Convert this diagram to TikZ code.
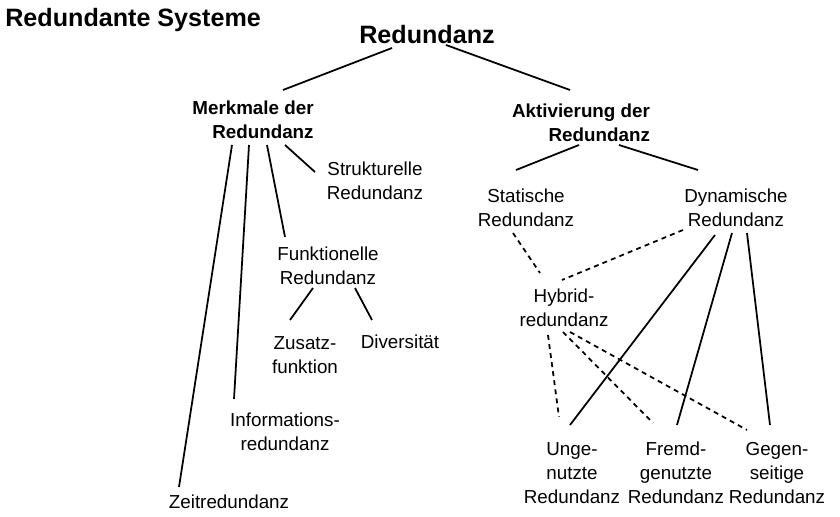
\documentclass[tikz,border=0pt]{standalone}
\usepackage{fontspec}
\setmainfont{Liberation Sans}
\usepackage{tikz}
\usetikzlibrary{calc}

\begin{document}
\begin{tikzpicture}[
    x=0.02cm, y=-0.02cm,
    titlenode/.style={font=\fontsize{14.3}{17}\selectfont\bfseries, inner sep=0pt},
    headnode/.style={font=\fontsize{10.7}{13.6}\selectfont\bfseries, align=right, inner sep=0pt},
    leafnode/.style={font=\fontsize{10.7}{13.8}\selectfont, align=center, inner sep=0pt},
    branch/.style={draw=black, line width=1pt},
    hybridlink/.style={branch, dash pattern=on 2.8pt off 2.4pt}
]
    \useasboundingbox (0,0) rectangle (840,517);

    \node[titlenode, anchor=west] (title) at (5,20) {Redundante Systeme};
    \node[titlenode] (root) at (427,35) {Redundanz};

    % linke Seite
    \node[headnode] (merk) at (253,120) {Merkmale der\\Redundanz};
    \node[leafnode] (strukt) at (375,181) {Strukturelle\\Redundanz};
    \node[leafnode] (funkt) at (328,266) {Funktionelle\\Redundanz};
    \node[leafnode] (zusatz) at (305,355) {Zusatz-\\funktion};
    \node[leafnode] (divers) at (400,342) {Diversität};
    \node[leafnode] (info) at (285,432) {Informations-\\redundanz};
    \node[leafnode] (zeit) at (229,502) {Zeitredundanz};

    % rechte Seite
    \node[headnode] (aktiv) at (581,123) {Aktivierung der\\Redundanz};
    \node[leafnode] (stat) at (526,208) {Statische\\Redundanz};
    \node[leafnode] (dyn) at (736,208) {Dynamische\\Redundanz};
    \node[leafnode] (hybrid) at (564,308) {Hybrid-\\redundanz};
    \node[leafnode] (unge) at (572,473) {Unge-\\nutzte\\Redundanz};
    \node[leafnode] (fremd) at (676,473) {Fremd-\\genutzte\\Redundanz};
    \node[leafnode] (gegen) at (777,473) {Gegen-\\seitige\\Redundanz};

    \draw[branch] ($(root)+(-35,13)$) -- ($(merk)+(30,-30)$);
    \draw[branch] ($(root)+(19,10)$) -- ($(aktiv)+(-11,-33)$);

    \draw[branch] ($(merk)+(-21,25)$) -- ($(zeit)+(-50,-15)$);
    \draw[branch] ($(merk)+(-4,25)$) -- ($(info)+(-51,-33)$);
    \draw[branch] ($(merk)+(14,25)$) -- ($(funkt)+(-43,-29)$);
    \draw[branch] ($(merk)+(32,25)$) -- ($(strukt)+(-60,-9)$);
    \draw[branch] ($(funkt)+(-15,22)$) -- ($(zusatz)+(-15,-35)$);
    \draw[branch] ($(funkt)+(27,22)$) -- ($(divers)+(-28,-22)$);

    \draw[branch] ($(aktiv)+(-2,22)$) -- ($(stat)+(-10,-38)$);
    \draw[branch] ($(aktiv)+(38,22)$) -- ($(dyn)+(-38,-38)$);
    \draw[branch] ($(dyn)+(-21,27)$) -- ($(unge)+(-2,-48)$);
    \draw[branch] ($(dyn)+(-4,25)$) -- ($(fremd)+(1,-48)$);
    \draw[branch] ($(dyn)+(11,25)$) -- ($(gegen)+(-7,-48)$);

    \draw[hybridlink] ($(stat)+(-13,25)$) -- ($(hybrid)+(-24,-35)$);
    \draw[hybridlink] ($(dyn)+(-53,22)$) -- ($(hybrid)+(-2,-28)$);
    \draw[hybridlink] ($(hybrid)+(-16,27)$) -- ($(unge)+(-13,-56)$);
    \draw[hybridlink] ($(hybrid)+(-1,24)$) -- ($(fremd)+(-23,-50)$);
    \draw[hybridlink] ($(hybrid)+(6,24)$) -- ($(gegen)+(-30,-43)$);
\end{tikzpicture}
\end{document}
